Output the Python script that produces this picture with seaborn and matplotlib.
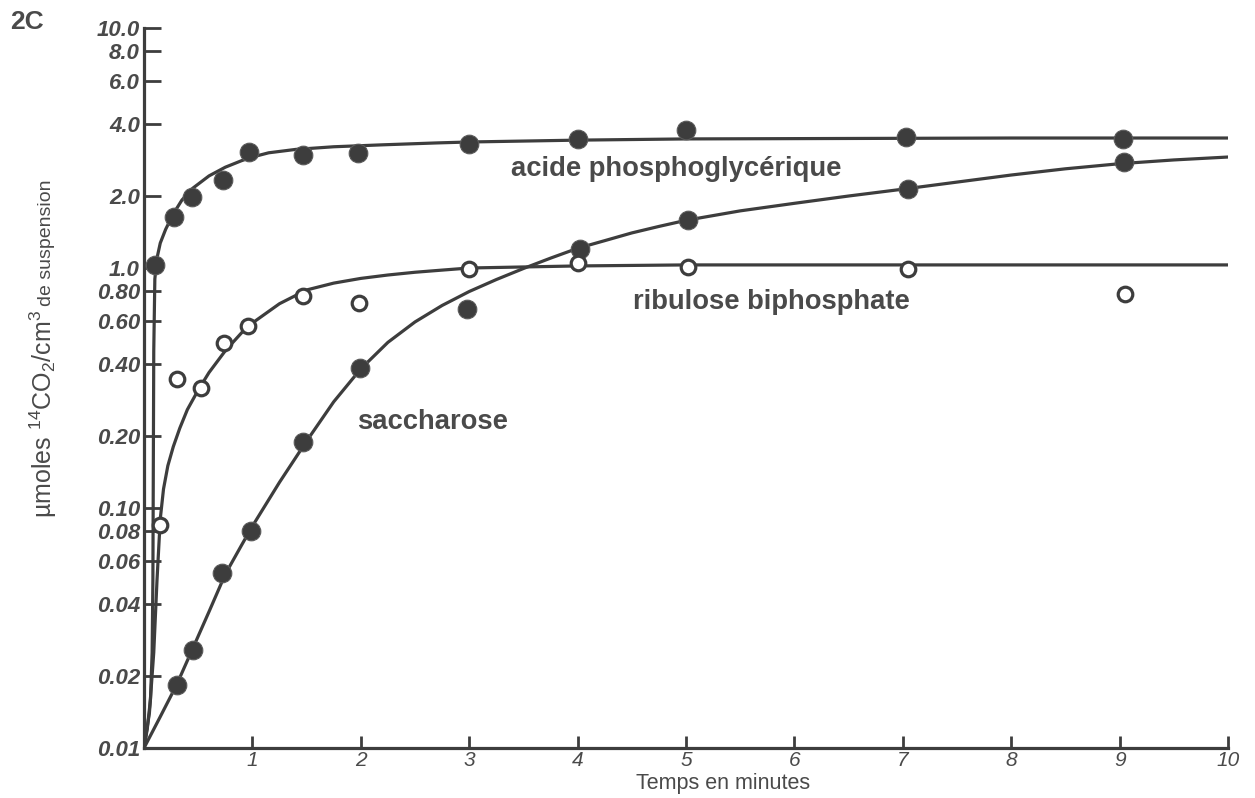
import matplotlib
matplotlib.use("Agg")
import matplotlib.pyplot as plt
import seaborn as sns
from matplotlib.ticker import FixedLocator, NullLocator, FixedFormatter

# ---------------- data ----------------
# acide phosphoglycérique (filled dots)
pga_x = [0.10, 0.28, 0.44, 0.73, 0.97, 1.47, 1.97, 3.0, 4.0, 5.0, 7.03, 9.03]
pga_y = [1.03, 1.63, 1.98, 2.33, 3.04, 2.96, 3.01, 3.29, 3.45, 3.76, 3.51, 3.45]
# drawn curve through PGA
pga_cx = [0, 0.03, 0.06, 0.075, 0.082, 0.086, 0.09, 0.10, 0.12, 0.15, 0.2, 0.27, 0.35,
          0.45, 0.6, 0.75, 0.9, 1.0, 1.15, 1.4, 1.75, 2.2, 2.7, 3.0, 3.5, 4.0, 5.0, 6.0,
          7.0, 8.0, 9.0, 10.0]
pga_cy = [0.01, 0.012, 0.016, 0.025, 0.05, 0.15, 0.45, 0.9, 1.1, 1.27, 1.45, 1.68, 1.92,
          2.15, 2.42, 2.63, 2.8, 2.9, 3.02, 3.12, 3.2, 3.26, 3.32, 3.35, 3.38, 3.41, 3.45,
          3.46, 3.47, 3.48, 3.48, 3.48]

# ribulose biphosphate (open circles)
rub_x = [0.15, 0.30, 0.53, 0.74, 0.96, 1.47, 1.98, 3.0, 4.0, 5.02, 7.05, 9.05]
rub_y = [0.085, 0.345, 0.316, 0.487, 0.573, 0.764, 0.715, 0.99, 1.05, 1.01, 0.99, 0.78]
rub_cx = [0, 0.05, 0.09, 0.12, 0.15, 0.18, 0.22, 0.27, 0.33, 0.4, 0.5, 0.6, 0.75, 0.9,
          1.0, 1.25, 1.5, 1.75, 2.0, 2.25, 2.5, 2.75, 3.0, 3.5, 4.0, 5.0, 7.0, 10.0]
rub_cy = [0.01, 0.014, 0.025, 0.05, 0.09, 0.12, 0.15, 0.18, 0.215, 0.257, 0.31, 0.367,
          0.452, 0.537, 0.59, 0.71, 0.81, 0.865, 0.905, 0.935, 0.96, 0.98, 1.0, 1.01,
          1.02, 1.03, 1.03, 1.03]

# saccharose (filled dots)
sac_x = [0.30, 0.45, 0.72, 0.99, 1.47, 1.99, 2.98, 4.02, 5.02, 7.05, 9.04]
sac_y = [0.0183, 0.0256, 0.0537, 0.080, 0.188, 0.383, 0.675, 1.20, 1.58, 2.13, 2.77]
sac_cx = [0, 0.15, 0.3, 0.45, 0.6, 0.75, 0.9, 1.0, 1.25, 1.5, 1.75, 2.0, 2.25, 2.5,
          2.75, 3.0, 3.25, 3.5, 3.75, 4.0, 4.25, 4.5, 4.75, 5.0, 5.5, 6.0, 6.5, 7.0, 7.5,
          8.0, 8.5, 9.0, 9.5, 10.0]
sac_cy = [0.01, 0.0135, 0.0183, 0.026, 0.037, 0.053, 0.07, 0.084, 0.128, 0.19, 0.277,
          0.38, 0.49, 0.596, 0.698, 0.798, 0.895, 0.995, 1.099, 1.208, 1.30, 1.40, 1.49,
          1.58, 1.73, 1.86, 1.995, 2.13, 2.28, 2.44, 2.59, 2.72, 2.82, 2.9]

y_ticks = [0.01, 0.02, 0.04, 0.06, 0.08, 0.10, 0.20, 0.40, 0.60, 0.80, 1.0, 2.0, 4.0, 6.0, 8.0, 10.0]
y_ticklabels = ["0.01", "0.02", "0.04", "0.06", "0.08", "0.10", "0.20", "0.40", "0.60",
                "0.80", "1.0", "2.0", "4.0", "6.0", "8.0", "10.0"]
x_ticks = [1, 2, 3, 4, 5, 6, 7, 8, 9, 10]
x_ticklabels = ["1", "2", "3", "4", "5", "6", "7", "8", "9", "10"]

# ---------------- style ----------------
sns.set_style("white")
plt.rcParams['font.family'] = ['Liberation Sans', 'DejaVu Sans']
plt.rcParams['mathtext.fontset'] = 'custom'
plt.rcParams['mathtext.rm'] = 'Liberation Sans'
plt.rcParams['mathtext.it'] = 'Liberation Sans:italic'
plt.rcParams['mathtext.bf'] = 'Liberation Sans:bold'

INK = '#3d3d3d'
TXT = '#4a4a4a'

fig = plt.figure(figsize=(12.55, 7.98), dpi=100)
ax = fig.add_axes([144 / 1255, 1 - 748 / 798, 1084 / 1255, 720 / 798])

lw = 2.3
for cx, cy in [(pga_cx, pga_cy), (rub_cx, rub_cy), (sac_cx, sac_cy)]:
    sns.lineplot(x=cx, y=cy, ax=ax, color=INK, linewidth=lw, estimator=None, sort=False)

sns.scatterplot(x=pga_x, y=pga_y, ax=ax, color=INK, s=180, edgecolor='#5a5a5a',
                linewidth=0.8, zorder=5, clip_on=False)
sns.scatterplot(x=sac_x, y=sac_y, ax=ax, color=INK, s=180, edgecolor='#5a5a5a',
                linewidth=0.8, zorder=5, clip_on=False)
sns.scatterplot(x=rub_x, y=rub_y, ax=ax, facecolor='white', s=110, edgecolor=INK,
                linewidth=2.3, zorder=6, clip_on=False)

ax.set_yscale('log')
ax.set_xlim(0, 10)
ax.set_ylim(0.01, 10)

ax.yaxis.set_major_locator(FixedLocator(y_ticks))
ax.yaxis.set_major_formatter(FixedFormatter(y_ticklabels))
ax.yaxis.set_minor_locator(NullLocator())
ax.xaxis.set_major_locator(FixedLocator(x_ticks))
ax.xaxis.set_major_formatter(FixedFormatter(x_ticklabels))

ax.tick_params(axis='y', direction='in', length=12, width=2.0, color=INK, pad=3,
               labelsize=16, labelcolor=TXT, left=True)
ax.tick_params(axis='x', direction='in', length=9, width=2.0, color=INK, pad=2,
               labelsize=15, labelcolor=TXT, bottom=True)
for lab in ax.get_yticklabels():
    lab.set_fontstyle('italic')
    lab.set_fontweight('bold')
for lab in ax.get_xticklabels():
    lab.set_fontstyle('italic')

for side in ['top', 'right']:
    ax.spines[side].set_visible(False)
for side in ['left', 'bottom']:
    ax.spines[side].set_color(INK)
    ax.spines[side].set_linewidth(2.3)

ax.set_xlabel("Temps en minutes", fontsize=15.5, color=TXT)
ax.xaxis.set_label_coords(0.534, -0.0345)
ax.set_ylabel(r"µmoles $^{14}$CO$_2$/cm$^3$", fontsize=18, color=TXT)
ax.yaxis.set_label_coords(-0.078, (748 - 414) / 720)
fig.text(55 / 1255, 1 - 243 / 798, "de suspension", fontsize=14, color=TXT,
         rotation=90, ha='right', va='center')

ax.text(3.39, 2.585, "acide phosphoglycérique", fontsize=19.7, weight='bold', color=TXT,
        ha='left', va='center')
ax.text(4.51, 0.72, "ribulose biphosphate", fontsize=19.7, weight='bold', color=TXT,
        ha='left', va='center')
ax.text(1.965, 0.228, "saccharose", fontsize=19.7, weight='bold', color=TXT,
        ha='left', va='center')

fig.text(0.008, 1 - 22 / 798, "2C", fontsize=19, weight='bold', color=TXT,
         ha='left', va='center')

fig.savefig("out.png", dpi=100, facecolor='white')
